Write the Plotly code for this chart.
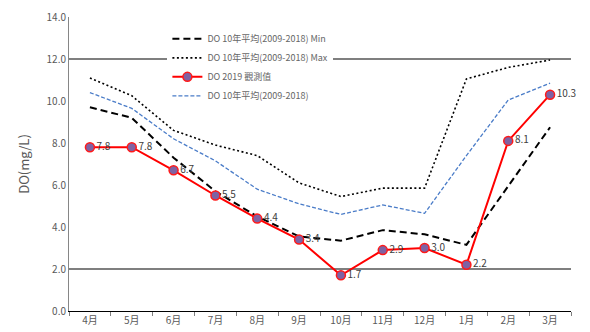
import plotly.graph_objects as go

# Monthly dissolved-oxygen series (mg/L), April 2019 to March 2020
months = ["4月", "5月", "6月", "7月", "8月", "9月", "10月", "11月", "12月", "1月", "2月", "3月"]
do_min_10y = [9.7, 9.2, 7.3, 5.7, 4.5, 3.55, 3.35, 3.85, 3.65, 3.15, 5.95, 8.75]
do_max_10y = [11.1, 10.25, 8.6, 7.9, 7.4, 6.1, 5.45, 5.85, 5.85, 11.05, 11.6, 11.95]
do_obs_2019 = [7.8, 7.8, 6.7, 5.5, 4.4, 3.4, 1.7, 2.9, 3.0, 2.2, 8.1, 10.3]
do_avg_10y = [10.4, 9.65, 8.2, 7.15, 5.8, 5.1, 4.6, 5.05, 4.65, 7.4, 10.05, 10.85]
y_ticks = [0, 2, 4, 6, 8, 10, 12, 14]
ref_levels = [2, 12]

font_family = "Noto Sans CJK TC, Liberation Sans, sans-serif"

fig = go.Figure()

fig.add_trace(go.Scatter(
    x=months, y=do_min_10y, mode="lines",
    name="DO 10年平均(2009-2018) Min",
    line=dict(color="black", width=2, dash="7px,4px"),
))
fig.add_trace(go.Scatter(
    x=months, y=do_max_10y, mode="lines",
    name="DO 10年平均(2009-2018) Max",
    line=dict(color="black", width=1.6, dash="2px,2.5px"),
))
fig.add_trace(go.Scatter(
    x=months, y=do_obs_2019, mode="lines+markers+text",
    name="DO 2019 觀測值",
    line=dict(color="#FF0000", width=2),
    marker=dict(size=9, color="#7F62A3", line=dict(color="#FF1A1A", width=1.5)),
    text=[f"{v:.1f}" for v in do_obs_2019],
    textposition="middle right",
    textfont=dict(size=10, color="#404040", family=font_family),
    cliponaxis=False,
))
fig.add_trace(go.Scatter(
    x=months, y=do_avg_10y, mode="lines",
    name="DO 10年平均(2009-2018)",
    line=dict(color="#4A7CC8", width=1.3, dash="4px,2px"),
))

# Reference levels at 2 and 12 mg/L
for lv in ref_levels:
    fig.add_shape(type="line", xref="paper", yref="y", x0=0, x1=1, y0=lv, y1=lv,
                  line=dict(color="black", width=1.2), layer="below")

fig.update_layout(
    width=590, height=332,
    margin=dict(l=69, r=19, t=17, b=21, autoexpand=False),
    paper_bgcolor="white", plot_bgcolor="white",
    font=dict(family=font_family, color="#595959"),
    showlegend=True,
    legend=dict(
        x=0.196, y=0.975, xanchor="left", yanchor="top",
        bgcolor="white", borderwidth=0,
        font=dict(size=9, color="#666666", family=font_family),
        itemwidth=30, tracegroupgap=0,
    ),
    xaxis=dict(
        type="category", categoryorder="array", categoryarray=months,
        showgrid=False, showline=True, linecolor="black", linewidth=1.2,
        ticks="outside", tickson="boundaries", ticklen=4, tickcolor="#7f7f7f",
        tickfont=dict(size=10, color="#595959"), automargin=False,
        range=[-0.5, 11.5],
    ),
    yaxis=dict(
        range=[0, 14], tickvals=y_ticks, tickformat=".1f",
        showgrid=False, zeroline=False, showline=True, linecolor="#868686", linewidth=1,
        ticks="", tickfont=dict(size=10, color="#595959"), automargin=False,
        title=dict(text="DO(mg/L)", font=dict(size=13, color="#595959"), standoff=14),
    ),
)

fig.write_html("out.html")
